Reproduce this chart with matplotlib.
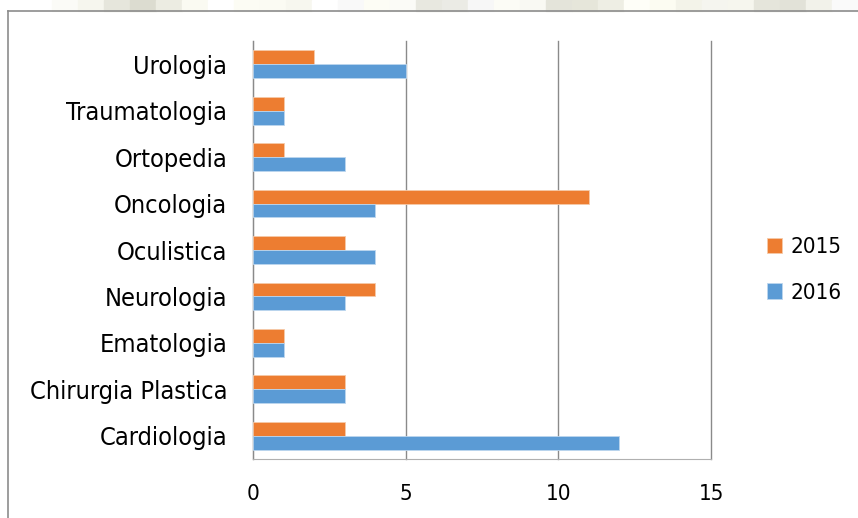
import matplotlib.pyplot as plt
import numpy as np
from matplotlib.patches import Rectangle
from matplotlib import font_manager

# Data (bottom to top as drawn)
categories = ['Cardiologia', 'Chirurgia Plastica', 'Ematologia', 'Neurologia',
              'Oculistica', 'Oncologia', 'Ortopedia', 'Traumatologia', 'Urologia']
values_2015 = [3, 3, 1, 4, 3, 11, 1, 1, 2]
values_2016 = [12, 3, 1, 3, 4, 4, 3, 1, 5]
x_ticks = [0, 5, 10, 15]

orange = '#ED7D31'
blue = '#5B9BD5'

plt.rcParams['font.family'] = ['DejaVu Sans']

# use the condensed cut of DejaVu Sans if it is installed
fp = font_manager.FontProperties(family='DejaVu Sans', stretch='condensed')
if 'Condensed' in font_manager.findfont(fp):
    stretch = 'condensed'
    cat_size, tick_size = 18.2, 16
else:
    stretch = 'normal'
    cat_size, tick_size = 16.4, 14.4

fig = plt.figure(figsize=(8.58, 5.18), dpi=100)
W, H = 858, 518

# faint textured strip above the chart frame
strip_colors = ['#ffffff', '#ffffff', '#fbfbf7', '#f6f6ee', '#e6e6dc', '#dcdcd0', '#ecece2',
                '#fafaf2', '#ffffff', '#fcfcf4', '#fbfbf3', '#f7f7ef', '#ffffff', '#f9f9f9',
                '#fdfdf5', '#fbfbf7', '#e8e8e0', '#ebebe5', '#f7f7f7', '#fcfcf6', '#f9f9f3',
                '#e4e4da', '#e6e6da', '#eeeee4', '#fefef8', '#fcfcf2', '#f3f3e9', '#f5f5ef',
                '#f6f6ee', '#e5e5db', '#e2e2d8', '#f2f2ea', '#fafafa']
sw = W / len(strip_colors)
for i, c in enumerate(strip_colors):
    fig.patches.append(Rectangle((i * sw / W, 1 - 11 / H), sw / W, 11 / H,
                                 transform=fig.transFigure, color=c, zorder=0))

# chart frame (left and top edges visible)
fig.add_artist(plt.Line2D([8 / W, 8 / W], [0, 1 - 11 / H], transform=fig.transFigure,
                          color='#8c8c8c', lw=1.2))
fig.add_artist(plt.Line2D([8 / W, 1], [1 - 11 / H, 1 - 11 / H], transform=fig.transFigure,
                          color='#8c8c8c', lw=1.2))

ax = fig.add_axes([253 / W, 1 - 459 / H, (711 - 253) / W, (459 - 41) / H])

y = np.arange(len(categories))
h = 0.3
ax.barh(y + h / 2, values_2015, height=h, color=orange, edgecolor='#f6c9a8', lw=0.6, label='2015', zorder=3)
ax.barh(y - h / 2, values_2016, height=h, color=blue, edgecolor='#bcd6ee', lw=0.6, label='2016', zorder=3)

ax.set_xlim(0, 15)
ax.set_ylim(-0.5, len(categories) - 0.5)
ax.set_xticks(x_ticks)
ax.set_xticklabels([str(t) for t in x_ticks], fontsize=tick_size, fontstretch=stretch)
ax.set_yticks(y)
ax.set_yticklabels(categories, fontsize=cat_size, fontstretch=stretch)
ax.tick_params(axis='both', length=0, colors='black')
ax.tick_params(axis='x', pad=18)
ax.tick_params(axis='y', pad=18.5)

ax.grid(axis='x', color='#8a8a8a', lw=1.0, zorder=0)
for gl in ax.get_xgridlines():
    gl.set_clip_on(False)
for s in ['top', 'right']:
    ax.spines[s].set_visible(False)
ax.spines['left'].set_color('#8a8a8a')
ax.spines['bottom'].set_color('#b0b0b0')

leg = fig.legend(handles=ax.get_legend_handles_labels()[0], labels=['2015', '2016'],
                 loc='center left', bbox_to_anchor=(767 / W, 1 - 270 / H), frameon=False,
                 prop=font_manager.FontProperties(family='DejaVu Sans', stretch=stretch, size=tick_size),
                 handlelength=0.68, handleheight=0.68, labelspacing=1.15,
                 handletextpad=0.38, borderpad=0, borderaxespad=0)

fig.savefig('out.png', dpi=100)
